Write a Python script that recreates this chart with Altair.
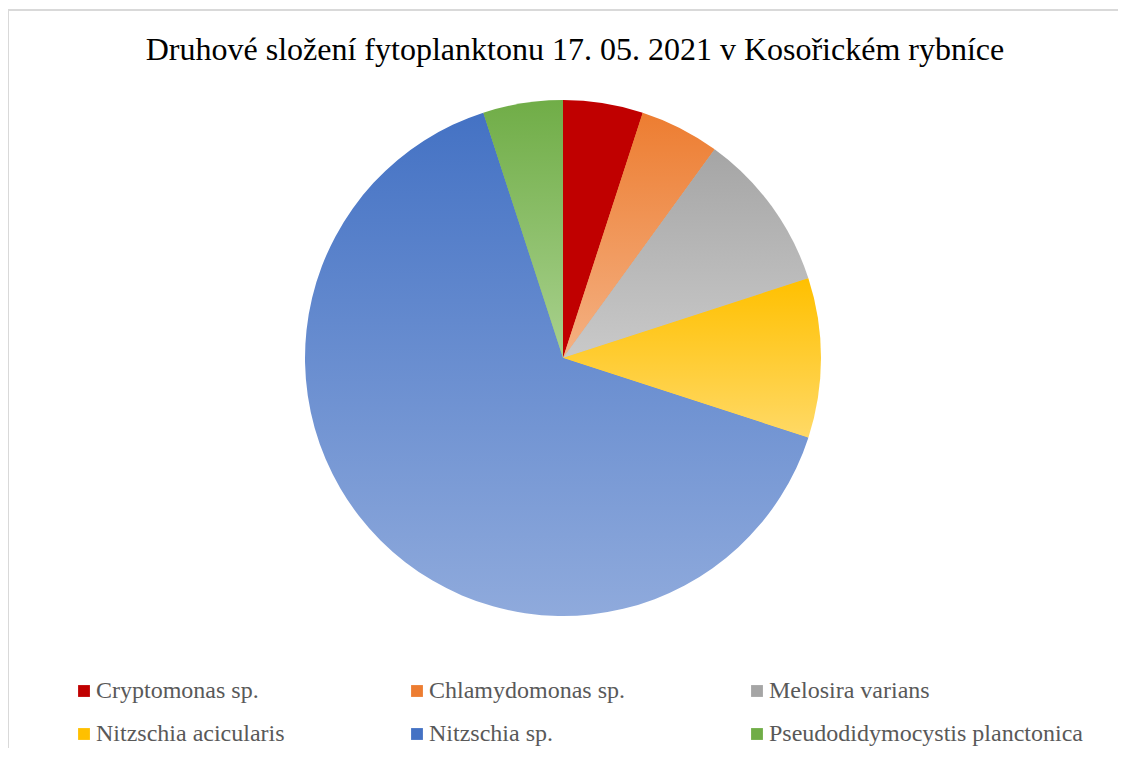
import altair as alt
import pandas as pd

species = ["Cryptomonas sp.", "Chlamydomonas sp.", "Melosira varians",
           "Nitzschia acicularis", "Nitzschia sp.", "Pseudodidymocystis planctonica"]
values = [5, 5, 10, 10, 65, 5]
base_colors = ["#C00000", "#ED7D31", "#A5A5A5", "#FFC000", "#4472C4", "#70AD47"]
light_colors = ["#C00000", "#F4B183", "#C9C9C9", "#FFD966", "#8FAADC", "#A9D18E"]
title_text = "Druhové složení fytoplanktonu 17. 05. 2021 v Kosořickém rybníce"

df = pd.DataFrame({"species": species, "value": values, "idx": list(range(len(species)))})


def grad(c1, c2):
    return {"gradient": "linear", "x1": 0, "y1": 0, "x2": 0, "y2": 1,
            "stops": [{"offset": 0, "color": c1}, {"offset": 1, "color": c2}]}


conds = []
for s, c1, c2 in zip(species[:-1], base_colors[:-1], light_colors[:-1]):
    conds.append({"test": f"datum.species === '{s}'", "value": grad(c1, c2)})
fill_enc = alt.FillValue(value=grad(base_colors[-1], light_colors[-1]), condition=conds)

base = alt.Chart(df).encode(
    theta=alt.Theta("value:Q", stack=True),
    order=alt.Order("idx:Q"),
    x=alt.value(555),
    y=alt.value(350),
)

# solid layer underneath (provides the legend)
pie_solid = base.mark_arc(radius=257).encode(
    color=alt.Color("species:N", scale=alt.Scale(domain=species, range=base_colors),
                    legend=alt.Legend(title=None, orient="none", legendX=64, legendY=671,
                                      columns=3, direction="horizontal",
                                      symbolType="square", symbolSize=140,
                                      labelFont="Liberation Serif", labelFontSize=24,
                                      labelColor="#595959", labelOffset=0, labelLimit=500,
                                      columnPadding=120, rowPadding=19, padding=0,
                                      symbolStrokeWidth=0)),
)

# gradient layer on top
pie_grad = base.mark_arc(radius=258).encode(fill=fill_enc)

one = pd.DataFrame({"a": [0]})
border_top = alt.Chart(one).mark_rule(color="#D9D9D9", strokeWidth=2).encode(
    x=alt.value(0), x2=alt.value(1122), y=alt.value(2))
border_left = alt.Chart(one).mark_rule(color="#D9D9D9", strokeWidth=2).encode(
    x=alt.value(0), y=alt.value(2), y2=alt.value(760))

title = alt.Chart(pd.DataFrame({"t": [title_text]})).mark_text(
    font="Liberation Serif", fontSize=32, color="#000000", align="center",
    baseline="alphabetic").encode(
    text="t:N", x=alt.value(567), y=alt.value(52))

chart = alt.layer(border_top, border_left, pie_solid, pie_grad, title).properties(
    width=1110, height=740, padding=0, autosize="none"
).configure_view(stroke=None)

chart.save("out.html", embed_options={"renderer": "svg", "actions": False})
